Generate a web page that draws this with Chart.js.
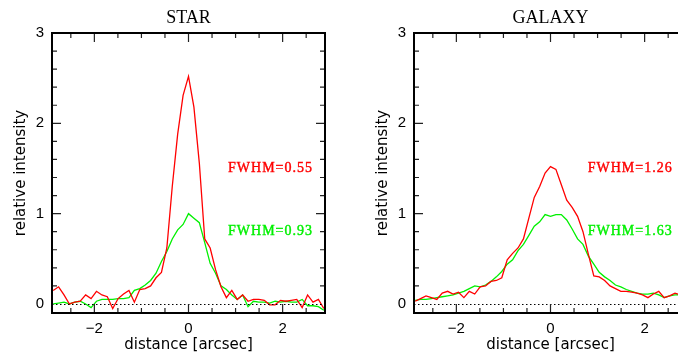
<!DOCTYPE html>
<html>
<head>
<meta charset="utf-8">
<script src="https://cdn.jsdelivr.net/npm/chart.js@4/dist/chart.umd.min.js"></script>
<style>
  html, body { margin: 0; padding: 0; background: #fff; }
  body { width: 678px; height: 362px; overflow: hidden; position: relative; }
  canvas { position: absolute; top: 0; }
  #star { left: 0; }
  #galaxy { left: 362px; }
</style>
</head>
<body>
<canvas id="star" width="340" height="362"></canvas>
<canvas id="galaxy" width="340" height="362"></canvas>
<script>
// distance along the slit [arcsec]
const distance = [
  -2.875, -2.76, -2.645, -2.53, -2.415, -2.3, -2.185, -2.07, -1.955, -1.84,
  -1.725, -1.61, -1.495, -1.38, -1.265, -1.15, -1.035, -0.92, -0.805, -0.69,
  -0.575, -0.46, -0.345, -0.23, -0.115, 0, 0.115, 0.23, 0.345, 0.46,
  0.575, 0.69, 0.805, 0.92, 1.035, 1.15, 1.265, 1.38, 1.495, 1.61,
  1.725, 1.84, 1.955, 2.07, 2.185, 2.3, 2.415, 2.53, 2.645, 2.76, 2.875
];

// STAR profiles
const starRed = [
  0.15, 0.19, 0.10, 0.00, 0.02, 0.03, 0.10, 0.06, 0.14, 0.10,
  0.08, -0.05, 0.06, 0.11, 0.15, 0.02, 0.16, 0.17, 0.20, 0.29,
  0.35, 0.62, 1.30, 1.88, 2.31, 2.52, 2.18, 1.56, 0.72, 0.62,
  0.38, 0.19, 0.07, 0.15, 0.05, 0.10, 0.03, 0.05, 0.05, 0.04,
  -0.01, -0.01, 0.04, 0.03, 0.04, 0.05, -0.04, 0.10, 0.02, 0.05, -0.05
];
const starGreen = [
  0.00, 0.01, 0.02, 0.00, 0.02, 0.03, 0.00, -0.04, 0.03, 0.05,
  0.05, 0.05, 0.06, 0.06, 0.07, 0.15, 0.17, 0.21, 0.26, 0.34,
  0.47, 0.58, 0.72, 0.82, 0.88, 1.00, 0.95, 0.90, 0.68, 0.45,
  0.34, 0.20, 0.16, 0.10, 0.05, 0.10, -0.03, 0.03, 0.02, 0.02,
  0.01, 0.03, 0.02, 0.03, 0.02, 0.02, 0.05, -0.02, -0.02, -0.03, -0.07
];

// GALAXY profiles
const galaxyRed = [
  0.03, 0.06, 0.09, 0.07, 0.05, 0.12, 0.14, 0.11, 0.13, 0.07,
  0.14, 0.11, 0.19, 0.20, 0.25, 0.26, 0.29, 0.49, 0.56, 0.62,
  0.72, 0.95, 1.18, 1.30, 1.45, 1.52, 1.49, 1.32, 1.15, 1.07,
  0.97, 0.80, 0.55, 0.31, 0.30, 0.26, 0.20, 0.17, 0.14, 0.14,
  0.13, 0.12, 0.10, 0.07, 0.11, 0.14, 0.07, 0.09, 0.12, 0.10, 0.10
];
const galaxyGreen = [
  0.04, 0.05, 0.05, 0.06, 0.07, 0.08, 0.09, 0.10, 0.12, 0.14,
  0.17, 0.20, 0.19, 0.21, 0.25, 0.30, 0.36, 0.44, 0.49, 0.59,
  0.66, 0.76, 0.86, 0.91, 0.99, 0.97, 0.99, 0.99, 0.93, 0.83,
  0.72, 0.66, 0.53, 0.44, 0.35, 0.30, 0.26, 0.21, 0.19, 0.16,
  0.14, 0.12, 0.11, 0.11, 0.12, 0.10, 0.07, 0.09, 0.10, 0.10, 0.09
];

const xTickLabels = [-2, 0, 2];
const yTickLabels = [0, 1, 2, 3];
const starNotes = ['FWHM=0.55', 'FWHM=0.93'];
const galaxyNotes = ['FWHM=1.26', 'FWHM=1.63'];

const RED = '#ff0000';
const GREEN = '#00f000';

// box, inward ticks, dotted zero line, panel title and FWHM notes
const pgFrame = {
  id: 'pgFrame',
  afterDatasetsDraw(chart, args, opts) {
    const { ctx, chartArea: a, scales: { x, y } } = chart;
    ctx.save();

    // dotted zero line
    ctx.strokeStyle = '#000';
    ctx.lineWidth = 1;
    ctx.setLineDash([1.5, 2.5]);
    const y0 = Math.round(y.getPixelForValue(0)) + 0.5;
    ctx.beginPath();
    ctx.moveTo(a.left, y0);
    ctx.lineTo(a.right, y0);
    ctx.stroke();
    ctx.setLineDash([]);

    // ticks
    ctx.lineWidth = 1.2;
    ctx.strokeStyle = '#222';
    ctx.beginPath();
    for (let v = -2.5; v <= 2.5; v += 0.5) {
      const px = x.getPixelForValue(v);
      const len = Math.abs(v % 2) < 1e-6 ? 9 : 5;
      ctx.moveTo(px, a.bottom); ctx.lineTo(px, a.bottom - len);
      ctx.moveTo(px, a.top); ctx.lineTo(px, a.top + len);
    }
    for (let i = 1; i < 15; i++) {
      const v = i * 0.2;
      const py = y.getPixelForValue(v);
      const len = i % 5 === 0 ? 9 : 5;
      ctx.moveTo(a.left, py); ctx.lineTo(a.left + len, py);
      ctx.moveTo(a.right, py); ctx.lineTo(a.right - len, py);
    }
    ctx.stroke();

    // box
    ctx.lineWidth = 2;
    ctx.strokeStyle = '#000';
    ctx.strokeRect(a.left, a.top, a.right - a.left, a.bottom - a.top);

    // panel title
    ctx.fillStyle = '#000';
    ctx.font = '18px "Liberation Serif"';
    ctx.textAlign = 'center';
    ctx.textBaseline = 'middle';
    ctx.fillText(opts.title, (a.left + a.right) / 2, 18);

    // FWHM notes
    ctx.font = '14px "Liberation Serif"';
    ctx.letterSpacing = '1px';
    ctx.textAlign = 'left';
    opts.notes.forEach((n) => {
      ctx.fillStyle = n.color;
      ctx.strokeStyle = n.color;
      ctx.lineWidth = 0.4;
      const px = x.getPixelForValue(n.x);
      const py = y.getPixelForValue(n.y);
      ctx.fillText(n.text, px, py);
      ctx.strokeText(n.text, px, py);
    });
    ctx.restore();
  }
};

function makeChart(id, title, red, green, notes, noteX) {
  const pts = (vals) => distance.map((d, i) => ({ x: d, y: vals[i] }));
  return new Chart(document.getElementById(id), {
    type: 'line',
    data: {
      datasets: [
        { data: pts(red), borderColor: RED, borderWidth: 1.3, pointRadius: 0, tension: 0 },
        { data: pts(green), borderColor: GREEN, borderWidth: 1.3, pointRadius: 0, tension: 0 }
      ]
    },
    options: {
      responsive: false,
      animation: false,
      devicePixelRatio: 1,
      layout: { padding: { top: 33, right: 15, left: 0, bottom: 0 } },
      plugins: {
        legend: { display: false },
        tooltip: { enabled: false },
        pgFrame: {
          title: title,
          notes: [
            { text: notes[0], color: RED, x: noteX, y: 1.5 },
            { text: notes[1], color: GREEN, x: noteX, y: 0.8 }
          ]
        }
      },
      scales: {
        x: {
          type: 'linear',
          min: -2.9,
          max: 2.9,
          afterBuildTicks: (s) => { s.ticks = xTickLabels.map((v) => ({ value: v })); },
          afterFit: (s) => { s.height = 49; },
          grid: { display: false, drawTicks: false },
          border: { display: false },
          ticks: {
            padding: 7,
            color: '#000',
            font: { family: '"Liberation Sans"', size: 15 },
            callback: (v) => String(v).replace('-', '\u2212')
          },
          title: {
            display: true,
            text: 'distance [arcsec]',
            color: '#000',
            font: { family: '"DejaVu Sans"', size: 15 },
            padding: { top: 0, bottom: 8 }
          }
        },
        y: {
          min: -0.1,
          max: 3,
          afterBuildTicks: (s) => { s.ticks = yTickLabels.map((v) => ({ value: v })); },
          afterFit: (s) => { s.width = 52; },
          grid: { display: false, drawTicks: false },
          border: { display: false },
          ticks: {
            padding: 8,
            color: '#000',
            font: { family: '"Liberation Sans"', size: 15 }
          },
          title: {
            display: true,
            text: 'relative intensity',
            color: '#000',
            font: { family: '"DejaVu Sans"', size: 15 },
            padding: { top: 12, bottom: 0 }
          }
        }
      }
    },
    plugins: [pgFrame]
  });
}

makeChart('star', 'STAR', starRed, starGreen, starNotes, 0.84);
makeChart('galaxy', 'GALAXY', galaxyRed, galaxyGreen, galaxyNotes, 0.79);
</script>
</body>
</html>
